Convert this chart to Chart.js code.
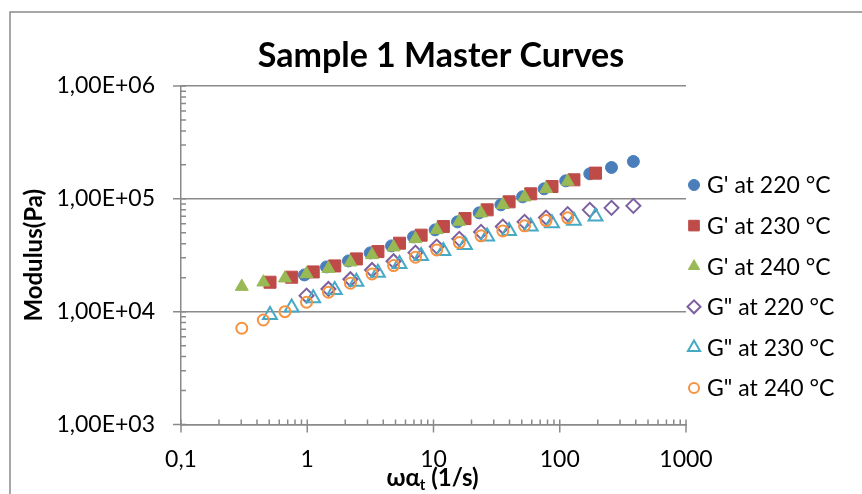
<!DOCTYPE html>
<html>
<head>
<meta charset="utf-8">
<script src="https://cdn.jsdelivr.net/npm/chart.js@4.4.1/dist/chart.umd.min.js"></script>
<style>
  body { margin: 0; background: #fff; }
  canvas { display: block; }
</style>
</head>
<body>
<canvas id="master-curves" width="862" height="494"></canvas>
<script>
// Sample 1 master curves: storage (G') and loss (G") modulus vs reduced frequency

const chartTitle = 'Sample 1 Master Curves';
const seriesLabels = ["G' at 220 °C", "G' at 230 °C", "G' at 240 °C", 'G" at 220 °C', 'G" at 230 °C', 'G" at 240 °C'];

// reduced frequency (1/s)
const freq220 = [0.95, 1.42, 2.12, 3.15, 4.65, 6.95, 10.3, 15.5, 23.0, 34.2, 50.8, 75.2, 111.5, 173, 257, 383];
const freq230 = [0.507, 0.752, 1.115, 1.651, 2.45, 3.63, 5.38, 7.98, 11.97, 17.76, 26.6, 39.7, 58.9, 86.8, 129.5, 192];
const freq240 = [0.303, 0.449, 0.666, 0.987, 1.472, 2.197, 3.26, 4.83, 7.2, 10.6, 16.0, 23.8, 35.4, 52.6, 77.9, 115.5];
const freqG2_220 = [0.987, 1.472, 2.197, 3.26, 4.83, 7.2, 10.6, 16.0, 23.8, 35.4, 52.6, 77.9, 115.5, 173, 257, 383];

// modulus (Pa)
const gp220 = [21170, 24930, 28180, 33180, 38280, 46000, 53070, 62500, 75100, 88500, 104200, 122700, 144400, 166700, 189600, 214300];
const gp230 = [18230, 20200, 22500, 25440, 29350, 34070, 40450, 47640, 56780, 66880, 79880, 94060, 110800, 128600, 147400, 169000];
const gp240 = [16670, 18230, 19790, 21600, 24070, 27440, 31850, 37270, 44170, 53070, 62900, 74650, 88500, 103500, 122700, 142400];
const gpp220 = [13870, 15900, 19390, 23440, 28010, 33380, 37740, 44170, 50950, 56780, 62500, 68260, 73150, 79880, 83190, 86690];
const gpp230 = [9350, 10900, 13150, 15570, 18460, 22180, 26500, 31200, 34560, 39060, 46290, 52000, 56780, 60870, 63800, 69660];
const gpp240 = [7125, 8440, 10000, 12120, 14860, 17870, 21600, 25600, 30390, 35280, 40950, 46960, 52000, 57600, 64180, 67840];

const xMajor = [0.1, 1, 10, 100, 1000];
const yMajor = [1e3, 1e4, 1e5, 1e6];

const FONT = "Lato, 'Open Sans', sans-serif";
const AXIS_GREY = '#8a8a8a';

function pairs(xs, ys) {
  return xs.map((x, i) => ({ x: x, y: ys[i] }));
}

function formatE(v) {
  const exp = Math.round(Math.log10(v));
  return '1,00E+' + (exp < 10 ? '0' + exp : exp);
}

function formatX(v) {
  return String(v).replace('.', ',');
}

// title, minor tick marks, tick crosses, outer frame and x title like the spreadsheet original
const decorations = {
  id: 'decorations',
  afterDraw(chart) {
    const ctx = chart.ctx;
    const xs = chart.scales.x, ys = chart.scales.y;
    const area = chart.chartArea;
    ctx.save();
    ctx.strokeStyle = AXIS_GREY;
    ctx.lineWidth = 1.5;
    ctx.beginPath();
    // outer frame (top + left)
    ctx.moveTo(10, chart.height);
    ctx.lineTo(10, 12);
    ctx.lineTo(chart.width, 12);
    // y ticks
    for (let e = 3; e <= 6; e++) {
      const py = ys.getPixelForValue(Math.pow(10, e));
      ctx.moveTo(area.left - 8, py);
      ctx.lineTo(area.left + 5, py);
      if (e < 6) {
        for (let k = 2; k <= 9; k++) {
          const pm = ys.getPixelForValue(k * Math.pow(10, e));
          ctx.moveTo(area.left, pm);
          ctx.lineTo(area.left + 5, pm);
        }
      }
    }
    // x ticks
    for (let e = -1; e <= 3; e++) {
      const px = xs.getPixelForValue(Math.pow(10, e));
      ctx.moveTo(px, area.bottom - 5);
      ctx.lineTo(px, area.bottom + 8);
      if (e < 3) {
        for (let k = 2; k <= 9; k++) {
          const pm = xs.getPixelForValue(k * Math.pow(10, e));
          ctx.moveTo(pm, area.bottom - 5);
          ctx.lineTo(pm, area.bottom);
        }
      }
    }
    ctx.stroke();

    ctx.fillStyle = '#000';
    ctx.textBaseline = 'alphabetic';

    // chart title
    ctx.font = 'bold 34px ' + FONT;
    ctx.textAlign = 'center';
    ctx.fillText(chartTitle, 441, 67);
    ctx.textAlign = 'left';

    // x axis title with subscript t
    const cx = (area.left + area.right) / 2 - 1;
    const baseY = area.bottom + 61;
    const big = 'bold 24px ' + FONT, small = 'bold 15px ' + FONT;
    ctx.font = big;
    const w1 = ctx.measureText('ωα').width;
    const w3 = ctx.measureText(' (1/s)').width;
    ctx.font = small;
    const w2 = ctx.measureText('t').width;
    const x0 = cx - (w1 + w2 + w3) / 2;
    ctx.font = big;
    ctx.fillText('ωα', x0, baseY);
    ctx.font = small;
    ctx.fillText('t', x0 + w1, baseY + 4);
    ctx.font = big;
    ctx.fillText(' (1/s)', x0 + w1 + w2, baseY);
    ctx.restore();
  }
};

// legend at right, one row per series
const sideLegend = {
  id: 'sideLegend',
  afterDraw(chart) {
    const ctx = chart.ctx;
    const area = chart.chartArea;
    ctx.save();
    chart.data.datasets.forEach((ds, i) => {
      const y = area.top + 99 + i * 40.6;
      const x = area.right + 8;
      ctx.fillStyle = ds.backgroundColor;
      ctx.strokeStyle = ds.borderColor;
      ctx.lineWidth = ds.borderWidth;
      Chart.helpers.drawPoint(ctx, {
        pointStyle: ds.pointStyle,
        radius: ds.legendRadius,
        borderWidth: ds.borderWidth,
        rotation: 0
      }, x, y);
      ctx.fillStyle = '#000';
      ctx.font = '23px ' + FONT;
      ctx.textBaseline = 'middle';
      ctx.fillText(ds.label, x + 13, y + 1);
    });
    ctx.restore();
  }
};

function makeDataset(label, xs, ys, style, color, filled, radius, legendRadius, order) {
  return {
    label: label,
    data: pairs(xs, ys),
    pointStyle: style,
    pointRadius: radius,
    legendRadius: legendRadius,
    backgroundColor: filled ? color : 'rgba(0,0,0,0)',
    borderColor: color,
    borderWidth: filled ? 1 : 2,
    showLine: false,
    order: order
  };
}

const ctx = document.getElementById('master-curves').getContext('2d');
const masterChart = new Chart(ctx, {
  type: 'scatter',
  data: {
    datasets: [
      makeDataset(seriesLabels[0], freq220, gp220, 'circle', '#4a7ebb', true, 6, 5.5, 5),
      makeDataset(seriesLabels[1], freq230, gp230, 'rect', '#be4b48', true, 8.5, 7.5, 4),
      makeDataset(seriesLabels[2], freq240, gp240, 'triangle', '#98b954', true, 7.5, 6.5, 3),
      makeDataset(seriesLabels[3], freqG2_220, gpp220, 'rectRot', '#7d60a0', false, 7, 6.5, 2),
      makeDataset(seriesLabels[4], freq230, gpp230, 'triangle', '#46aac5', false, 8, 7, 1),
      makeDataset(seriesLabels[5], freq240, gpp240, 'circle', '#f69240', false, 5.5, 5, 0)
    ]
  },
  options: {
    responsive: false,
    animation: false,
    layout: { padding: { top: 86, left: 0, right: 176, bottom: 0 } },
    plugins: {
      legend: { display: false },
      tooltip: { enabled: false },
      title: { display: false }
    },
    scales: {
      x: {
        type: 'logarithmic',
        position: 'bottom',
        min: 0.1,
        max: 1000,
        afterBuildTicks: s => { s.ticks = xMajor.map(v => ({ value: v })); },
        afterFit: s => { s.height = 69.5; },
        ticks: {
          callback: v => formatX(v),
          color: '#000',
          font: { family: FONT, size: 23 },
          padding: 21,
          maxRotation: 0,
          autoSkip: false
        },
        grid: { display: false, drawTicks: false },
        border: { display: true, color: AXIS_GREY, width: 1.5 }
      },
      y: {
        type: 'logarithmic',
        position: 'left',
        min: 1e3,
        max: 1e6,
        afterBuildTicks: s => { s.ticks = yMajor.map(v => ({ value: v })); },
        afterFit: s => { s.width = 181; },
        ticks: {
          callback: v => formatE(v),
          color: '#000',
          font: { family: FONT, size: 23 },
          padding: 26,
          autoSkip: false
        },
        grid: { color: AXIS_GREY, lineWidth: 1.5, drawTicks: false },
        border: { display: true, color: AXIS_GREY, width: 1.5 },
        title: {
          display: true,
          text: 'Modulus(Pa)',
          color: '#000',
          font: { family: FONT, size: 24, weight: 'bold' },
          padding: { top: 20, bottom: 0 }
        }
      }
    }
  },
  plugins: [decorations, sideLegend]
});
</script>
</body>
</html>
